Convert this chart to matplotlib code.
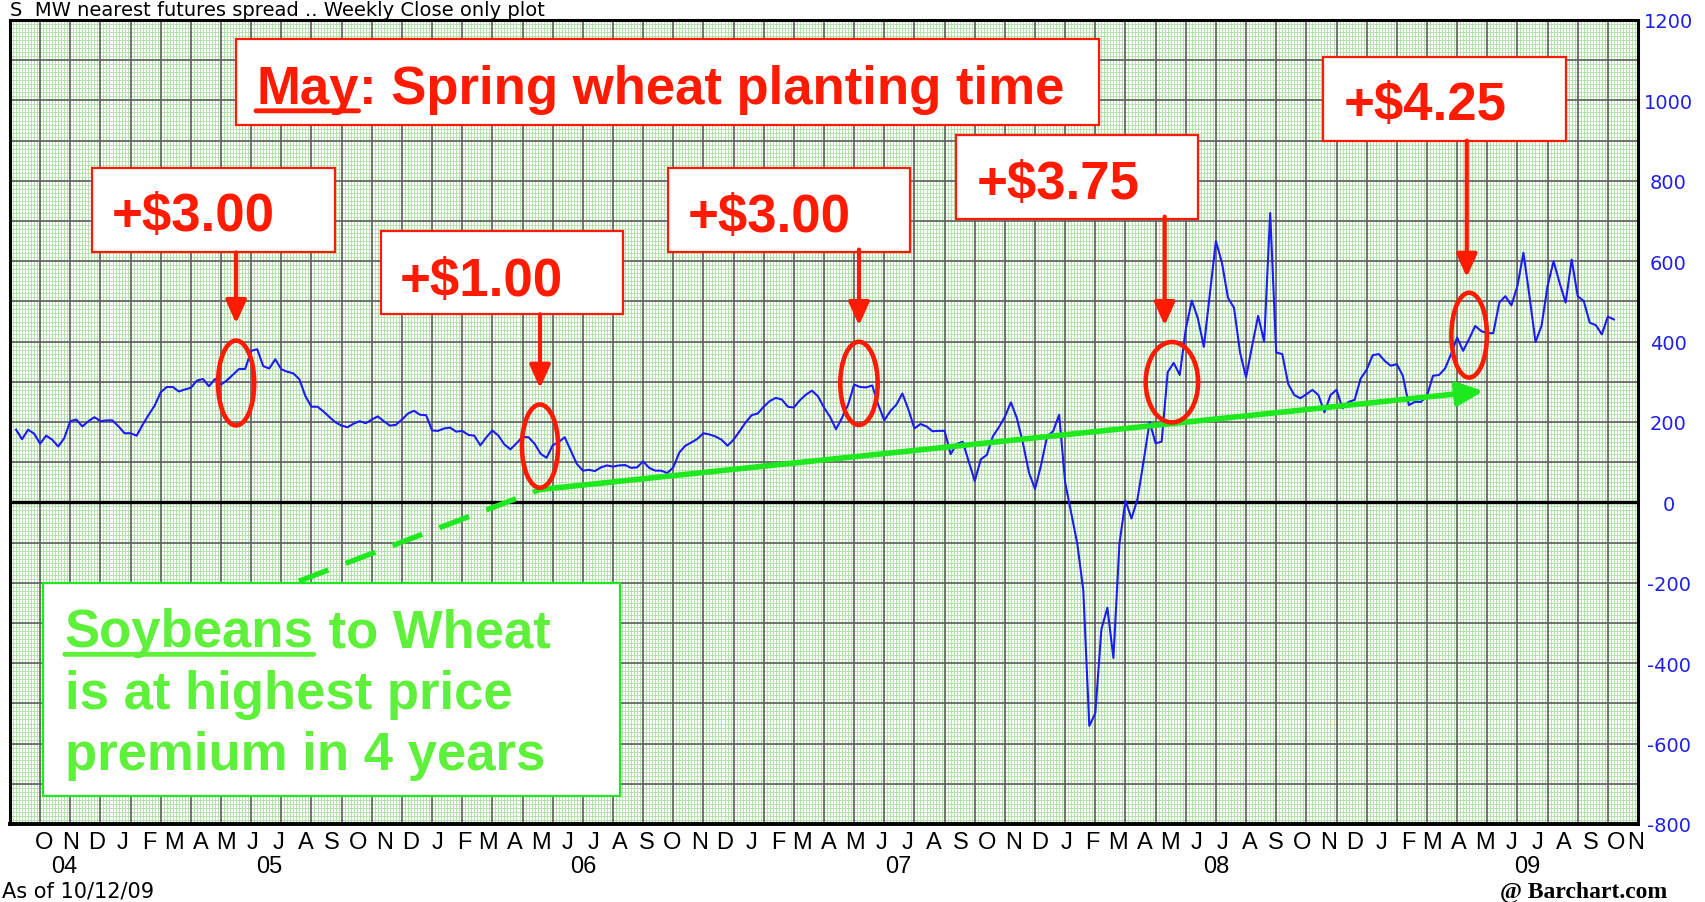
import numpy as np
import pandas as pd
import matplotlib
matplotlib.use("Agg")
import matplotlib.pyplot as plt
from matplotlib.patches import Ellipse, Rectangle

# S-MW nearest futures spread, weekly close (cents)
chart_start = pd.Timestamp("2004-09-06")   # left edge of the plot
chart_end = pd.Timestamp("2009-11-09")     # right edge of the plot
dates = pd.date_range("2004-09-13", periods=266, freq="7D")
spread = [
    181, 157, 181, 171, 146, 166, 156, 139, 160, 202,
    206, 189, 202, 212, 202, 204, 204, 189, 172, 172,
    166, 193, 218, 241, 274, 287, 287, 276, 281, 285,
    303, 307, 289, 307, 293, 304, 318, 332, 332, 377,
    381, 339, 333, 356, 331, 325, 321, 306, 264, 238,
    238, 226, 212, 199, 191, 187, 196, 202, 197, 206,
    214, 202, 191, 193, 206, 221, 228, 218, 217, 179,
    178, 184, 186, 176, 178, 168, 166, 142, 162, 179,
    166, 144, 132, 147, 163, 162, 146, 121, 111, 142,
    150, 162, 129, 96, 79, 81, 78, 87, 92, 89,
    92, 93, 86, 87, 102, 86, 79, 79, 73, 87,
    124, 141, 149, 158, 172, 169, 164, 156, 141, 156,
    177, 199, 217, 221, 238, 252, 260, 256, 238, 236,
    254, 268, 278, 264, 236, 213, 182, 211, 243, 293,
    287, 286, 291, 243, 204, 227, 243, 271, 231, 184,
    195, 189, 177, 178, 178, 120, 145, 151, 102, 53,
    107, 118, 164, 187, 213, 249, 209, 147, 74, 33,
    93, 164, 177, 218, 49, -27, -102, -218, -556, -524,
    -316, -262, -387, -102, 4, -40, 9, 102, 200, 147,
    151, 324, 347, 317, 431, 502, 458, 387, 520, 650,
    596, 509, 484, 373, 311, 389, 464, 400, 720, 373,
    369, 294, 267, 259, 269, 280, 267, 224, 267, 280,
    234, 250, 255, 308, 330, 366, 369, 352, 340, 344,
    315, 242, 250, 250, 265, 315, 317, 333, 369, 410,
    377, 407, 439, 426, 421, 421, 497, 513, 490, 538,
    621, 513, 399, 439, 538, 600, 546, 497, 604, 513,
    501, 447, 441, 418, 462, 455,
]

month_dates = pd.date_range("2004-10-01", "2009-11-01", freq="MS") + pd.Timedelta(days=14)
month_letters = ["JFMAMJJASOND"[d.month - 1] for d in month_dates]
year_labels = ["04", "05", "06", "07", "08", "09"]
year_dates = ["2004-11-08", "2005-07-04", "2006-07-03", "2007-07-04", "2008-07-07", "2009-07-03"]
y_ticks = list(range(-800, 1201, 200))

premium_labels = ["+$3.00", "+$1.00", "+$3.00", "+$3.75", "+$4.25"]

RED = "#ff1a00"
GREEN = "#1ee81e"
LGREEN = "#5ef03a"
BLUE = "#1c1cf5"


def wk(d):
    return (pd.Timestamp(d) - chart_start).days / 7.0


x = np.array([(d - chart_start).days / 7.0 for d in dates])
x_max = (chart_end - chart_start).days / 7.0

fig = plt.figure(figsize=(17.05, 9.03), dpi=100)
ax = fig.add_axes([10 / 1705, 78 / 903, 1628 / 1705, 804 / 903])
ax.set_xlim(0, x_max)
ax.set_ylim(-800, 1200)

# graph paper background
ax.vlines(np.arange(0, x_max + 0.01, 0.5), -800, 1200, colors="#b3e2ab", lw=0.7, zorder=0)
ax.hlines(np.arange(-800, 1201, 10), 0, x_max, colors="#b3e2ab", lw=0.7, zorder=0)
ax.vlines(np.arange(0, x_max + 0.01, 5), -800, 1200, colors="#5e5e5e", lw=1.2, zorder=1)
ax.hlines(np.arange(-800, 1201, 100), 0, x_max, colors="#5e5e5e", lw=1.2, zorder=1)
ax.axhline(0, color="black", lw=2.4, zorder=2)

ax.plot(x, spread, color=BLUE, lw=1.5, zorder=3)

for s in ax.spines.values():
    s.set_linewidth(2.2)
ax.spines["bottom"].set_linewidth(2.8)

# axes labels
ax.yaxis.tick_right()
ax.set_yticks(y_ticks)
ax.set_yticklabels([str(v) for v in y_ticks], ha="center", color="#1f1fe6",
                   fontsize=14, family="DejaVu Sans")
ax.tick_params(axis="y", length=0, pad=22)

lab_font = ["Liberation Sans Narrow", "Liberation Sans"]
# the last letter (Nov 09) sits just inside the right border
month_x = [min(wk(d), x_max - 0.4) for d in month_dates]
ax.set_xticks(month_x)
ax.set_xticklabels(month_letters, fontsize=17, family=lab_font)
ax.set_xticks([wk(d) for d in year_dates], minor=True)
ax.set_xticklabels(year_labels, minor=True, fontsize=17, family=lab_font)
ax.tick_params(axis="x", which="major", length=0, pad=5)
ax.tick_params(axis="x", which="minor", length=0, pad=22)

fig.text(10 / 1705, 1 - 16 / 903, "S  MW nearest futures spread .. Weekly Close only plot",
         fontsize=14, family="DejaVu Sans", va="baseline")
fig.text(2 / 1705, 1 - 898 / 903, "As of 10/12/09", fontsize=15, family="DejaVu Sans",
         va="baseline")
fig.text(1667 / 1705, 1 - 898 / 903, "@ Barchart.com", fontsize=17, family="Liberation Serif",
         weight="bold", ha="right", va="baseline")

big = dict(family="Liberation Sans", weight="bold", fontsize=38, zorder=8)

# red call-out boxes
boxes = [(13.6, 624, 53.9, 833), (61.5, 468, 101.7, 674), (109.1, 624, 149.3, 833),
         (156.9, 704, 197.0, 913), (217.7, 900, 258.0, 1109)]
text_pos = [(16.9, 678), (64.7, 515), (112.4, 675), (160.4, 756), (221.2, 954)]
arrows = [(37.5, 622, 445), (87.9, 468, 284), (140.8, 629, 440), (191.5, 711, 440),
          (241.6, 900, 560)]
rings = [(37.5, 297, 6.0, 211), (87.9, 140, 6.0, 207), (140.8, 296, 6.2, 207),
         (192.7, 299, 8.7, 200), (242.0, 416, 5.9, 211)]

for (x0, y0, x1, y1), (tx, ty), lab in zip(boxes, text_pos, premium_labels):
    ax.add_patch(Rectangle((x0, y0), x1 - x0, y1 - y0, facecolor="white", edgecolor=RED,
                           lw=1.6, zorder=7))
    ax.text(tx, ty, lab, color=RED, va="baseline", **big)

for ax_x, y_tail, y_tip in arrows:
    ax.annotate("", xy=(ax_x, y_tip), xytext=(ax_x, y_tail), zorder=9,
                arrowprops=dict(arrowstyle="-|>,head_length=1.0,head_width=0.45",
                                mutation_scale=14, color=RED, lw=3.0,
                                shrinkA=0, shrinkB=0))

for cx, cy, w, h in rings:
    ax.add_patch(Ellipse((cx, cy), w, h, fill=False, edgecolor=RED, lw=3.3, zorder=9))

# title box
ax.add_patch(Rectangle((37.5, 940), 180.6 - 37.5, 1152 - 940, facecolor="white",
                       edgecolor=RED, lw=1.6, zorder=7))
t_may = ax.text(40.8, 994, "May", color=RED, va="baseline", **big)
ax.annotate(": Spring wheat planting time", xy=(1, 0), xycoords=t_may, va="bottom",
            color=RED, **big)
ax.annotate("", xy=(0, 0.06), xycoords=t_may, xytext=(1, 0.06), textcoords=t_may,
            arrowprops=dict(arrowstyle="-", color=RED, lw=3.5, shrinkA=0, shrinkB=0),
            zorder=9)

# green trend line
ax.plot([47.9, 87.9], [-196, 32], color=GREEN, lw=3.8, ls=(0, (6, 3.5)), zorder=6,
        solid_capstyle="butt")
ax.annotate("", xy=(244.4, 277), xytext=(87.9, 32), zorder=6,
            arrowprops=dict(arrowstyle="-|>,head_length=1.1,head_width=0.5",
                            mutation_scale=14, color=GREEN, lw=4.0,
                            shrinkA=0, shrinkB=0))

ax.add_patch(Rectangle((5.5, -731), 101.2 - 5.5, 530, facecolor="white", edgecolor=GREEN,
                       lw=1.6, zorder=7))
t_soy = ax.text(9.1, -358, "Soybeans", color=LGREEN, va="baseline", **big)
ax.annotate(" to Wheat", xy=(1, 0), xycoords=t_soy, va="bottom", color=LGREEN, **big)
ax.annotate("", xy=(0, 0.06), xycoords=t_soy, xytext=(1, 0.06), textcoords=t_soy,
            arrowprops=dict(arrowstyle="-", color=LGREEN, lw=3.5, shrinkA=0, shrinkB=0),
            zorder=9)
ax.text(9.1, -512, "is at highest price", color=LGREEN, va="baseline", **big)
ax.text(9.1, -664, "premium in 4 years", color=LGREEN, va="baseline", **big)

fig.savefig("out.png", dpi=100)
